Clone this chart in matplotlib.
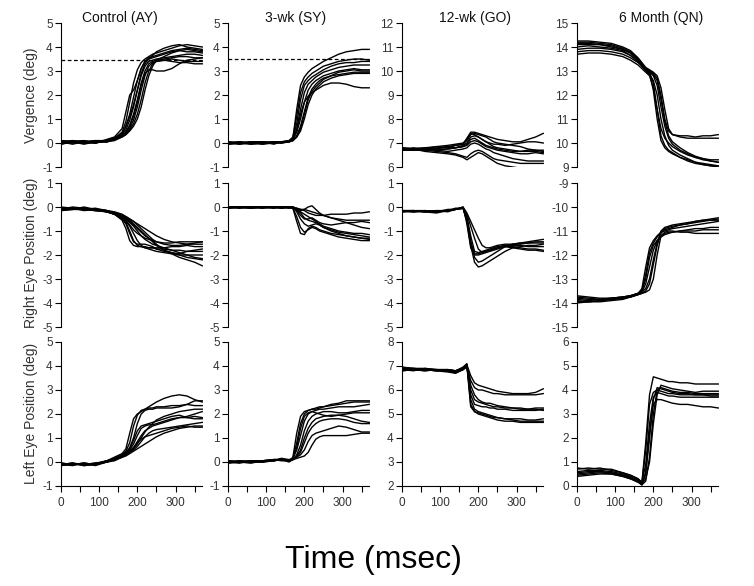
import matplotlib.pyplot as plt
from matplotlib.ticker import MultipleLocator

plt.rcParams["font.family"] = ["Liberation Sans", "DejaVu Sans"]
plt.rcParams["axes.unicode_minus"] = False

# sample times (msec) shared by every trace
T_MS = [0, 30, 60, 90, 120, 140, 160, 170, 180, 190, 200, 210, 220, 230, 240,
        250, 270, 290, 310, 330, 350, 370]

COL_TITLES = ["Control (AY)", "3-wk (SY)", "12-wk (GO)", "6 Month (QN)"]
ROW_LABELS = ["Vergence (deg)", "Right Eye Position (deg)", "Left Eye Position (deg)"]

# y ranges (bottom, top) for each panel, row by row
Y_RANGES = [
    [(-1, 5), (-1, 5), (6, 12), (9, 15)],
    [(-5, 1), (-5, 1), (-5, 1), (-15, -9)],
    [(-1, 5), (-1, 5), (2, 8), (0, 6)],
]

# dashed target levels on the vergence row (None = no line)
TARGET_LEVELS = [3.45, 3.5, None, None]

# ---- Vergence ----
VERG_AY = [
    [0.10, 0.05, 0.00, 0.05, 0.10, 0.20, 0.45, 0.90, 1.70, 2.50, 3.05, 3.35, 3.50, 3.60, 3.70, 3.75, 3.85, 3.95, 4.05, 4.10, 4.05, 4.00],
    [0.00, 0.10, 0.05, 0.00, 0.15, 0.25, 0.60, 1.30, 2.00, 2.20, 2.60, 3.10, 3.40, 3.55, 3.60, 3.65, 3.75, 3.85, 3.90, 3.95, 3.90, 3.85],
    [0.05, -0.05, 0.05, 0.10, 0.05, 0.20, 0.35, 0.70, 1.20, 1.90, 2.60, 3.10, 3.40, 3.50, 3.55, 3.60, 3.70, 3.80, 3.85, 3.80, 3.80, 3.75],
    [-0.05, 0.05, 0.10, 0.00, 0.10, 0.20, 0.35, 0.55, 0.95, 1.50, 2.20, 2.80, 3.20, 3.40, 3.45, 3.50, 3.55, 3.60, 3.65, 3.70, 3.70, 3.65],
    [0.00, 0.05, -0.05, 0.05, 0.05, 0.15, 0.30, 0.45, 0.75, 1.20, 1.80, 2.50, 3.00, 3.30, 3.40, 3.45, 3.50, 3.55, 3.60, 3.60, 3.55, 3.55],
    [0.10, 0.00, 0.05, 0.10, 0.10, 0.15, 0.30, 0.40, 0.60, 0.95, 1.50, 2.20, 2.80, 3.20, 3.35, 3.40, 3.45, 3.50, 3.45, 3.40, 3.40, 3.40],
    [-0.05, 0.05, 0.00, 0.05, 0.05, 0.10, 0.25, 0.35, 0.55, 0.80, 1.20, 1.80, 2.50, 3.00, 3.30, 3.40, 3.45, 3.40, 3.35, 3.35, 3.30, 3.30],
    [0.05, 0.10, 0.00, 0.00, 0.10, 0.15, 0.25, 0.35, 0.50, 0.70, 1.00, 1.50, 2.20, 2.80, 3.20, 3.45, 3.60, 3.75, 3.85, 3.90, 3.85, 3.80],
    [0.00, 0.00, 0.05, 0.05, 0.05, 0.15, 0.30, 0.45, 0.70, 1.10, 1.70, 2.40, 2.90, 3.05, 3.05, 3.00, 3.00, 3.10, 3.30, 3.45, 3.50, 3.55],
    [0.10, 0.05, 0.10, 0.00, 0.10, 0.20, 0.40, 0.70, 1.10, 1.60, 2.20, 2.90, 3.30, 3.50, 3.65, 3.80, 3.95, 4.05, 4.10, 4.00, 3.95, 3.90],
]
VERG_SY = [
    [0.05, -0.05, 0.00, 0.05, 0.00, 0.05, 0.05, 0.20, 1.40, 2.40, 2.75, 2.95, 3.10, 3.20, 3.30, 3.40, 3.55, 3.70, 3.80, 3.85, 3.90, 3.90],
    [-0.05, 0.00, 0.05, -0.05, 0.05, 0.00, 0.10, 0.25, 1.10, 2.10, 2.55, 2.75, 2.90, 3.00, 3.10, 3.20, 3.30, 3.40, 3.45, 3.50, 3.50, 3.45],
    [0.00, 0.05, -0.05, 0.00, 0.05, 0.05, 0.05, 0.20, 0.80, 1.80, 2.40, 2.60, 2.75, 2.85, 2.95, 3.05, 3.20, 3.30, 3.35, 3.35, 3.40, 3.40],
    [0.05, 0.00, 0.00, 0.05, -0.05, 0.05, 0.10, 0.15, 0.60, 1.40, 2.10, 2.45, 2.60, 2.75, 2.85, 2.95, 3.05, 3.15, 3.20, 3.25, 3.25, 3.25],
    [-0.05, 0.05, 0.00, 0.00, 0.05, 0.00, 0.05, 0.15, 0.45, 1.00, 1.70, 2.20, 2.45, 2.60, 2.70, 2.80, 2.90, 3.00, 3.05, 3.10, 3.05, 3.05],
    [0.00, -0.05, 0.05, 0.05, 0.00, 0.05, 0.05, 0.10, 0.30, 0.70, 1.30, 1.90, 2.25, 2.45, 2.60, 2.70, 2.80, 2.85, 2.90, 2.95, 2.95, 2.95],
    [0.05, 0.00, -0.05, 0.00, 0.05, 0.05, 0.05, 0.10, 0.25, 0.50, 1.00, 1.60, 2.00, 2.25, 2.40, 2.55, 2.70, 2.80, 2.85, 2.90, 2.90, 2.90],
    [0.00, 0.05, 0.00, -0.05, 0.00, 0.05, 0.10, 0.15, 0.50, 1.20, 1.70, 1.95, 2.10, 2.20, 2.30, 2.40, 2.50, 2.50, 2.45, 2.35, 2.30, 2.30],
    [-0.05, 0.00, 0.05, 0.05, 0.00, 0.00, 0.05, 0.10, 0.25, 0.60, 1.20, 1.80, 2.15, 2.35, 2.50, 2.65, 2.80, 2.95, 3.00, 3.05, 3.00, 3.00],
]
VERG_GO = [
    [6.80, 6.75, 6.70, 6.80, 6.85, 6.90, 6.95, 7.20, 7.45, 7.45, 7.40, 7.35, 7.30, 7.25, 7.20, 7.15, 7.10, 7.05, 7.05, 7.15, 7.25, 7.40],
    [6.75, 6.70, 6.75, 6.85, 6.80, 6.90, 6.95, 7.10, 7.35, 7.40, 7.35, 7.30, 7.25, 7.15, 7.05, 7.00, 6.95, 6.90, 6.85, 6.75, 6.70, 6.70],
    [6.70, 6.75, 6.80, 6.75, 6.85, 6.80, 6.90, 7.00, 7.25, 7.30, 7.25, 7.15, 7.05, 6.95, 6.85, 6.80, 6.75, 6.70, 6.65, 6.65, 6.65, 6.60],
    [6.80, 6.70, 6.70, 6.75, 6.75, 6.80, 6.85, 6.95, 7.15, 7.20, 7.10, 7.00, 6.90, 6.85, 6.80, 6.75, 6.70, 6.65, 6.65, 6.70, 6.70, 6.65],
    [6.75, 6.80, 6.75, 6.70, 6.75, 6.80, 6.85, 6.90, 7.05, 7.10, 7.05, 6.95, 6.85, 6.80, 6.75, 6.70, 6.65, 6.60, 6.55, 6.55, 6.60, 6.55],
    [6.70, 6.70, 6.75, 6.70, 6.65, 6.70, 6.75, 6.80, 6.95, 7.00, 6.95, 6.85, 6.75, 6.70, 6.60, 6.55, 6.45, 6.35, 6.30, 6.25, 6.25, 6.25],
    [6.75, 6.70, 6.70, 6.65, 6.60, 6.55, 6.45, 6.40, 6.55, 6.65, 6.70, 6.65, 6.55, 6.45, 6.35, 6.30, 6.25, 6.20, 6.15, 6.15, 6.15, 6.15],
    [6.70, 6.75, 6.65, 6.60, 6.55, 6.50, 6.40, 6.30, 6.40, 6.50, 6.60, 6.55, 6.45, 6.35, 6.25, 6.15, 6.05, 6.00, 5.95, 5.95, 5.95, 5.95],
    [6.80, 6.75, 6.80, 6.85, 6.90, 6.95, 7.00, 7.15, 7.40, 7.35, 7.25, 7.15, 7.05, 7.00, 6.95, 6.95, 6.90, 6.95, 7.00, 7.05, 7.05, 7.00],
]
VERG_QN = [
    [14.20, 14.20, 14.15, 14.10, 13.95, 13.80, 13.50, 13.30, 13.10, 12.95, 12.50, 11.40, 10.30, 9.90, 9.70, 9.60, 9.40, 9.30, 9.20, 9.15, 9.10, 9.05],
    [14.10, 14.10, 14.10, 14.00, 13.90, 13.75, 13.45, 13.25, 13.05, 12.90, 12.20, 11.00, 10.10, 9.80, 9.65, 9.55, 9.40, 9.25, 9.15, 9.10, 9.05, 9.00],
    [13.80, 13.85, 13.85, 13.80, 13.70, 13.55, 13.35, 13.20, 13.05, 12.95, 12.80, 12.40, 11.50, 10.70, 10.20, 9.95, 9.70, 9.55, 9.40, 9.30, 9.25, 9.20],
    [14.00, 14.05, 14.00, 13.95, 13.85, 13.65, 13.40, 13.25, 13.10, 13.00, 12.90, 12.70, 12.00, 11.00, 10.50, 10.35, 10.30, 10.30, 10.25, 10.30, 10.30, 10.35],
    [14.25, 14.25, 14.20, 14.15, 14.00, 13.85, 13.55, 13.35, 13.15, 13.05, 12.95, 12.80, 12.30, 11.40, 10.60, 10.35, 10.25, 10.20, 10.20, 10.20, 10.20, 10.20],
    [13.70, 13.75, 13.75, 13.70, 13.60, 13.45, 13.25, 13.10, 12.95, 12.80, 12.30, 11.40, 10.60, 10.20, 10.00, 9.85, 9.65, 9.50, 9.40, 9.35, 9.30, 9.30],
    [14.15, 14.15, 14.10, 14.05, 13.90, 13.75, 13.50, 13.30, 13.10, 13.00, 12.85, 12.60, 11.80, 10.90, 10.30, 10.05, 9.80, 9.60, 9.45, 9.35, 9.25, 9.20],
    [13.90, 13.95, 13.95, 13.90, 13.80, 13.65, 13.40, 13.20, 13.00, 12.85, 12.60, 12.00, 11.00, 10.30, 9.90, 9.70, 9.50, 9.35, 9.20, 9.10, 9.05, 9.05],
]

# ---- Right eye ----
RIGHT_AY = [
    [-0.10, -0.05, -0.10, -0.15, -0.20, -0.30, -0.55, -0.90, -1.40, -1.60, -1.65, -1.65, -1.70, -1.70, -1.70, -1.75, -1.75, -1.80, -1.80, -1.85, -1.85, -1.85],
    [-0.05, -0.10, 0.00, -0.10, -0.15, -0.25, -0.45, -0.65, -1.00, -1.40, -1.60, -1.65, -1.65, -1.70, -1.70, -1.70, -1.70, -1.65, -1.65, -1.60, -1.65, -1.65],
    [-0.15, -0.10, -0.05, -0.10, -0.20, -0.30, -0.45, -0.60, -0.80, -1.10, -1.40, -1.60, -1.70, -1.75, -1.80, -1.85, -1.90, -1.95, -2.00, -2.00, -2.00, -2.00],
    [-0.10, 0.00, -0.05, -0.10, -0.15, -0.25, -0.40, -0.50, -0.65, -0.80, -1.00, -1.20, -1.35, -1.45, -1.55, -1.60, -1.70, -1.80, -1.90, -2.00, -2.10, -2.15],
    [-0.05, -0.10, -0.10, -0.05, -0.15, -0.25, -0.35, -0.45, -0.55, -0.70, -0.85, -1.00, -1.15, -1.30, -1.45, -1.60, -1.80, -1.95, -2.10, -2.20, -2.30, -2.45],
    [-0.10, -0.05, -0.15, -0.10, -0.20, -0.25, -0.35, -0.40, -0.50, -0.60, -0.70, -0.80, -0.90, -1.00, -1.10, -1.20, -1.35, -1.45, -1.50, -1.55, -1.50, -1.45],
    [0.00, -0.05, -0.05, -0.10, -0.15, -0.20, -0.30, -0.40, -0.50, -0.60, -0.75, -0.90, -1.05, -1.20, -1.35, -1.45, -1.55, -1.60, -1.60, -1.55, -1.55, -1.55],
    [-0.15, -0.10, -0.10, -0.15, -0.20, -0.30, -0.40, -0.55, -0.75, -0.95, -1.10, -1.20, -1.30, -1.35, -1.40, -1.55, -1.80, -1.90, -2.00, -2.10, -2.15, -2.20],
    [-0.05, -0.05, -0.10, -0.10, -0.20, -0.30, -0.50, -0.70, -1.10, -1.45, -1.55, -1.55, -1.55, -1.60, -1.65, -1.75, -1.85, -1.90, -1.95, -1.85, -1.80, -1.75],
    [-0.10, -0.10, -0.05, -0.15, -0.15, -0.25, -0.35, -0.45, -0.60, -0.75, -0.90, -1.05, -1.20, -1.30, -1.40, -1.45, -1.50, -1.50, -1.45, -1.45, -1.45, -1.45],
]
RIGHT_SY = [
    [0.00, 0.00, -0.05, 0.00, 0.00, -0.05, 0.00, -0.05, -0.60, -1.10, -1.15, -0.90, -0.80, -0.85, -0.95, -1.00, -1.10, -1.15, -1.20, -1.25, -1.30, -1.35],
    [-0.05, 0.00, 0.00, 0.00, -0.05, 0.00, 0.00, -0.05, -0.40, -0.85, -1.05, -0.95, -0.85, -0.90, -1.00, -1.05, -1.15, -1.25, -1.30, -1.35, -1.40, -1.40],
    [0.00, -0.05, 0.00, 0.00, 0.00, 0.00, -0.05, 0.00, -0.20, -0.50, -0.70, -0.80, -0.75, -0.70, -0.75, -0.85, -0.95, -1.05, -1.10, -1.15, -1.20, -1.25],
    [0.00, 0.00, 0.00, -0.05, 0.00, 0.00, 0.00, -0.05, -0.10, -0.25, -0.45, -0.55, -0.60, -0.65, -0.70, -0.80, -0.90, -1.00, -1.05, -1.10, -1.10, -1.15],
    [-0.05, 0.00, -0.05, 0.00, 0.00, -0.05, 0.00, 0.00, -0.10, -0.15, -0.10, 0.00, 0.05, -0.10, -0.25, -0.35, -0.45, -0.55, -0.65, -0.75, -0.85, -0.90],
    [0.00, 0.00, 0.00, 0.00, -0.05, 0.00, -0.05, 0.00, -0.05, -0.10, -0.10, -0.15, -0.20, -0.25, -0.30, -0.35, -0.45, -0.50, -0.55, -0.55, -0.55, -0.55],
    [0.00, -0.05, 0.00, 0.00, 0.00, 0.00, 0.00, -0.05, -0.05, -0.10, -0.15, -0.25, -0.30, -0.35, -0.35, -0.35, -0.30, -0.30, -0.30, -0.25, -0.25, -0.20],
    [-0.05, 0.00, 0.00, -0.05, 0.00, 0.00, 0.00, 0.00, -0.15, -0.35, -0.50, -0.50, -0.45, -0.55, -0.65, -0.70, -0.75, -0.70, -0.65, -0.65, -0.60, -0.65],
    [0.00, 0.00, -0.05, 0.00, 0.00, -0.05, 0.00, 0.00, -0.10, -0.20, -0.30, -0.40, -0.50, -0.60, -0.75, -0.85, -1.00, -1.10, -1.20, -1.25, -1.30, -1.30],
]
RIGHT_GO = [
    [-0.15, -0.20, -0.15, -0.20, -0.15, -0.10, -0.05, -0.60, -1.60, -2.30, -2.50, -2.45, -2.35, -2.25, -2.15, -2.05, -1.85, -1.70, -1.65, -1.60, -1.60, -1.55],
    [-0.20, -0.15, -0.20, -0.15, -0.20, -0.10, -0.05, -0.50, -1.40, -2.10, -2.30, -2.25, -2.15, -2.05, -1.95, -1.85, -1.65, -1.55, -1.50, -1.50, -1.45, -1.45],
    [-0.15, -0.20, -0.20, -0.25, -0.15, -0.10, 0.00, -0.70, -1.70, -2.00, -2.00, -1.95, -1.90, -1.85, -1.80, -1.75, -1.65, -1.55, -1.50, -1.45, -1.40, -1.35],
    [-0.20, -0.15, -0.15, -0.20, -0.10, -0.10, -0.05, -0.40, -1.20, -1.85, -1.90, -1.85, -1.80, -1.75, -1.70, -1.65, -1.60, -1.60, -1.60, -1.65, -1.65, -1.65],
    [-0.15, -0.15, -0.20, -0.15, -0.15, -0.05, -0.05, -0.30, -0.80, -1.30, -1.75, -1.90, -1.85, -1.80, -1.75, -1.70, -1.65, -1.65, -1.70, -1.75, -1.75, -1.80],
    [-0.20, -0.20, -0.15, -0.20, -0.15, -0.10, 0.00, -0.25, -0.60, -0.95, -1.30, -1.60, -1.70, -1.70, -1.65, -1.60, -1.55, -1.55, -1.55, -1.50, -1.50, -1.50],
    [-0.15, -0.15, -0.20, -0.20, -0.15, -0.10, -0.05, -0.55, -1.50, -1.95, -1.95, -1.90, -1.85, -1.80, -1.75, -1.70, -1.65, -1.70, -1.75, -1.80, -1.80, -1.85],
]
RIGHT_QN = [
    [-13.75, -13.80, -13.85, -13.80, -13.75, -13.70, -13.60, -13.50, -12.80, -11.90, -11.50, -11.25, -11.05, -10.95, -10.90, -10.85, -10.75, -10.70, -10.60, -10.55, -10.50, -10.45],
    [-13.80, -13.85, -13.85, -13.80, -13.75, -13.70, -13.60, -13.40, -12.50, -11.70, -11.40, -11.20, -11.05, -11.00, -10.95, -10.90, -10.85, -10.80, -10.75, -10.70, -10.65, -10.60],
    [-13.90, -13.95, -13.90, -13.85, -13.80, -13.75, -13.65, -13.55, -13.20, -12.50, -11.80, -11.40, -11.20, -11.10, -11.05, -11.05, -11.00, -11.00, -11.00, -10.95, -10.95, -10.95],
    [-13.95, -13.95, -13.90, -13.85, -13.80, -13.75, -13.65, -13.60, -13.50, -13.20, -12.40, -11.60, -11.10, -10.90, -10.85, -10.80, -10.75, -10.70, -10.65, -10.60, -10.55, -10.50],
    [-14.00, -13.95, -13.95, -13.90, -13.85, -13.75, -13.65, -13.60, -13.55, -13.45, -13.00, -12.00, -11.20, -11.05, -11.00, -11.00, -11.05, -11.05, -11.10, -11.10, -11.10, -11.10],
    [-13.85, -13.90, -13.85, -13.85, -13.80, -13.70, -13.60, -13.50, -13.00, -12.10, -11.60, -11.40, -11.25, -11.15, -11.10, -11.05, -11.00, -10.95, -10.90, -10.90, -10.85, -10.85],
    [-13.70, -13.75, -13.80, -13.80, -13.75, -13.70, -13.60, -13.55, -13.40, -13.00, -12.20, -11.50, -11.00, -10.85, -10.80, -10.75, -10.70, -10.65, -10.60, -10.55, -10.55, -10.55],
]

# ---- Left eye ----
LEFT_AY = [
    [-0.10, -0.05, -0.15, -0.10, 0.05, 0.20, 0.35, 0.55, 1.20, 1.80, 2.00, 2.10, 2.20, 2.30, 2.40, 2.50, 2.65, 2.75, 2.80, 2.75, 2.60, 2.50],
    [-0.05, -0.10, -0.05, -0.10, 0.05, 0.15, 0.30, 0.45, 0.80, 1.50, 1.95, 2.15, 2.20, 2.25, 2.25, 2.30, 2.30, 2.35, 2.35, 2.40, 2.35, 2.35],
    [-0.15, -0.05, -0.10, -0.05, 0.00, 0.15, 0.30, 0.40, 0.60, 1.00, 1.60, 2.00, 2.15, 2.20, 2.20, 2.25, 2.25, 2.25, 2.30, 2.40, 2.55, 2.55],
    [-0.10, -0.15, -0.05, -0.10, 0.05, 0.10, 0.25, 0.35, 0.50, 0.75, 1.10, 1.40, 1.50, 1.55, 1.55, 1.60, 1.70, 1.80, 1.85, 1.85, 1.90, 1.85],
    [-0.05, -0.10, -0.10, -0.05, 0.00, 0.10, 0.25, 0.30, 0.45, 0.60, 0.85, 1.10, 1.30, 1.40, 1.50, 1.55, 1.65, 1.75, 1.85, 1.90, 2.00, 2.10],
    [-0.10, -0.05, -0.15, -0.10, 0.00, 0.10, 0.20, 0.30, 0.40, 0.50, 0.65, 0.85, 1.05, 1.20, 1.30, 1.35, 1.40, 1.45, 1.50, 1.55, 1.60, 1.65],
    [-0.15, -0.10, -0.05, -0.15, 0.00, 0.05, 0.20, 0.25, 0.35, 0.45, 0.55, 0.65, 0.75, 0.85, 0.95, 1.05, 1.20, 1.30, 1.40, 1.45, 1.50, 1.50],
    [-0.05, -0.10, -0.10, -0.05, 0.05, 0.10, 0.25, 0.35, 0.55, 0.90, 1.30, 1.50, 1.55, 1.60, 1.65, 1.70, 1.80, 1.90, 1.95, 1.85, 1.80, 1.80],
    [-0.10, -0.10, -0.05, -0.10, 0.00, 0.10, 0.20, 0.30, 0.40, 0.55, 0.75, 1.00, 1.25, 1.45, 1.60, 1.75, 1.90, 2.00, 2.10, 2.15, 2.20, 2.20],
    [-0.10, -0.05, -0.10, -0.10, 0.00, 0.10, 0.25, 0.30, 0.45, 0.60, 0.80, 0.95, 1.05, 1.10, 1.15, 1.20, 1.30, 1.40, 1.45, 1.50, 1.45, 1.45],
]
LEFT_SY = [
    [0.05, 0.00, 0.05, 0.00, 0.10, 0.10, 0.05, 0.20, 1.20, 1.90, 2.10, 2.15, 2.20, 2.25, 2.30, 2.30, 2.35, 2.40, 2.45, 2.50, 2.50, 2.50],
    [0.00, 0.05, 0.00, 0.05, 0.05, 0.15, 0.10, 0.15, 0.80, 1.60, 2.00, 2.15, 2.20, 2.20, 2.25, 2.30, 2.40, 2.45, 2.55, 2.55, 2.55, 2.55],
    [-0.05, 0.00, 0.05, 0.00, 0.10, 0.05, 0.05, 0.15, 0.50, 1.10, 1.70, 2.00, 2.10, 2.15, 2.20, 2.20, 2.25, 2.30, 2.30, 2.30, 2.35, 2.40],
    [0.05, 0.00, 0.00, 0.05, 0.05, 0.10, 0.05, 0.10, 0.30, 0.70, 1.30, 1.70, 1.90, 2.00, 2.05, 2.10, 2.10, 2.05, 2.05, 2.10, 2.15, 2.15],
    [0.00, -0.05, 0.05, 0.05, 0.10, 0.10, 0.05, 0.10, 0.25, 0.50, 1.00, 1.40, 1.65, 1.80, 1.85, 1.90, 1.95, 1.95, 1.90, 1.80, 1.70, 1.65],
    [0.00, 0.05, 0.00, 0.00, 0.05, 0.15, 0.05, 0.10, 0.20, 0.40, 0.80, 1.20, 1.45, 1.60, 1.70, 1.75, 1.80, 1.80, 1.75, 1.65, 1.60, 1.60],
    [0.05, 0.00, -0.05, 0.05, 0.10, 0.10, 0.00, 0.10, 0.15, 0.20, 0.25, 0.40, 0.70, 0.95, 1.05, 1.10, 1.10, 1.10, 1.10, 1.15, 1.20, 1.20],
    [-0.05, 0.05, 0.00, 0.00, 0.05, 0.10, 0.05, 0.15, 0.60, 1.40, 1.90, 2.05, 2.10, 2.05, 2.00, 1.95, 1.90, 1.95, 2.00, 2.05, 2.05, 2.05],
    [0.00, 0.00, 0.05, 0.05, 0.10, 0.10, 0.05, 0.10, 0.20, 0.30, 0.50, 0.85, 1.10, 1.20, 1.25, 1.30, 1.40, 1.50, 1.45, 1.35, 1.25, 1.25],
]
LEFT_GO = [
    [6.90, 6.85, 6.80, 6.85, 6.80, 6.75, 6.95, 7.05, 6.60, 6.30, 6.20, 6.15, 6.10, 6.05, 6.00, 5.95, 5.90, 5.85, 5.85, 5.85, 5.90, 6.05],
    [6.85, 6.90, 6.85, 6.80, 6.85, 6.80, 6.90, 7.00, 6.40, 6.10, 6.00, 6.00, 5.95, 5.90, 5.85, 5.85, 5.80, 5.80, 5.80, 5.80, 5.80, 5.85],
    [6.80, 6.85, 6.85, 6.80, 6.75, 6.70, 6.85, 6.95, 6.00, 5.60, 5.50, 5.45, 5.40, 5.35, 5.30, 5.30, 5.25, 5.25, 5.20, 5.20, 5.25, 5.25],
    [6.95, 6.90, 6.85, 6.85, 6.80, 6.75, 6.90, 7.05, 6.20, 5.80, 5.60, 5.50, 5.45, 5.45, 5.40, 5.35, 5.30, 5.25, 5.25, 5.20, 5.20, 5.15],
    [6.85, 6.80, 6.90, 6.85, 6.80, 6.75, 6.85, 7.00, 5.80, 5.40, 5.35, 5.30, 5.30, 5.25, 5.25, 5.20, 5.20, 5.15, 5.15, 5.15, 5.15, 5.20],
    [6.90, 6.85, 6.80, 6.85, 6.85, 6.80, 6.95, 7.10, 5.40, 5.10, 5.05, 5.00, 4.95, 4.90, 4.85, 4.85, 4.80, 4.80, 4.80, 4.75, 4.75, 4.80],
    [6.80, 6.85, 6.85, 6.80, 6.80, 6.70, 6.85, 7.00, 5.30, 5.10, 5.00, 4.95, 4.90, 4.85, 4.80, 4.75, 4.70, 4.70, 4.65, 4.65, 4.65, 4.65],
    [6.95, 6.90, 6.90, 6.85, 6.85, 6.80, 6.90, 7.05, 5.60, 5.20, 5.10, 5.05, 5.00, 4.95, 4.90, 4.85, 4.80, 4.75, 4.70, 4.70, 4.70, 4.70],
]
LEFT_QN = [
    [0.70, 0.75, 0.70, 0.70, 0.55, 0.45, 0.30, 0.15, 1.80, 3.80, 4.55, 4.50, 4.45, 4.40, 4.35, 4.35, 4.30, 4.30, 4.25, 4.25, 4.25, 4.25],
    [0.50, 0.55, 0.60, 0.55, 0.45, 0.35, 0.25, 0.10, 1.50, 3.40, 3.90, 4.00, 3.95, 3.90, 3.85, 3.85, 3.80, 3.80, 3.80, 3.80, 3.80, 3.80],
    [0.45, 0.50, 0.55, 0.50, 0.40, 0.30, 0.20, 0.05, 0.50, 2.00, 3.60, 4.10, 4.05, 4.00, 3.95, 3.90, 3.85, 3.85, 3.80, 3.80, 3.75, 3.75],
    [0.60, 0.65, 0.65, 0.60, 0.50, 0.40, 0.20, 0.05, 0.20, 1.20, 3.00, 4.00, 4.10, 4.05, 4.00, 3.95, 3.90, 3.90, 3.85, 3.85, 3.85, 3.85],
    [0.75, 0.70, 0.75, 0.65, 0.55, 0.45, 0.30, 0.15, 0.90, 2.60, 3.70, 3.90, 3.85, 3.80, 3.75, 3.75, 3.70, 3.70, 3.70, 3.70, 3.70, 3.70],
    [0.40, 0.45, 0.50, 0.50, 0.40, 0.30, 0.15, 0.05, 0.60, 2.20, 3.40, 3.60, 3.60, 3.55, 3.50, 3.45, 3.40, 3.40, 3.35, 3.30, 3.30, 3.25],
    [0.55, 0.60, 0.60, 0.55, 0.45, 0.35, 0.25, 0.10, 0.30, 1.00, 2.60, 3.80, 4.20, 4.15, 4.10, 4.05, 4.00, 3.95, 3.90, 3.95, 3.95, 3.95],
]

TRACES = [
    [VERG_AY, VERG_SY, VERG_GO, VERG_QN],
    [RIGHT_AY, RIGHT_SY, RIGHT_GO, RIGHT_QN],
    [LEFT_AY, LEFT_SY, LEFT_GO, LEFT_QN],
]

# layout in pixels of the 754x586 figure
W, H = 754, 586
col_left = [61, 228, 402, 577]
ax_w = 142
row_top = [23, 183, 342]
ax_h = 144
title_x = [120, 296, 475, 661]
label_y = [95, 253, 413]

fig = plt.figure(figsize=(W / 100, H / 100), dpi=100)
tick_color = "#333333"

for r in range(3):
    for c in range(4):
        ax = fig.add_axes([col_left[c] / W, 1 - (row_top[r] + ax_h) / H, ax_w / W, ax_h / H])
        for trace in TRACES[r][c]:
            ax.plot(T_MS, trace, color="black", lw=1.0)
        if r == 0 and TARGET_LEVELS[c] is not None:
            ax.axhline(TARGET_LEVELS[c], color="black", lw=0.9, ls=(0, (3, 2)), zorder=0)

        lo, hi = Y_RANGES[r][c]
        ax.set_ylim(lo, hi)
        ax.set_xlim(0, 372)
        ax.yaxis.set_major_locator(MultipleLocator(1))
        ax.spines["top"].set_visible(False)
        ax.spines["right"].set_visible(False)
        ax.spines["left"].set_bounds(lo, hi)
        ax.tick_params(axis="y", direction="out", length=4, width=0.8, pad=2,
                       labelsize=8.5, labelcolor=tick_color)
        if r == 2:
            ax.spines["bottom"].set_bounds(0, 370)
            ax.set_xticks([0, 100, 200, 300])
            ax.set_xticks([50, 150, 250, 350], minor=True)
            ax.tick_params(axis="x", which="both", direction="out", length=4, width=0.8,
                           pad=4, labelsize=8.5, labelcolor=tick_color)
        else:
            ax.spines["bottom"].set_visible(False)
            ax.set_xticks([])

for c in range(4):
    fig.text(title_x[c] / W, 1 - 18 / H, COL_TITLES[c], ha="center", va="center",
             fontsize=10, color="#111111")
for r in range(3):
    fig.text(31 / W, 1 - label_y[r] / H, ROW_LABELS[r], ha="center", va="center",
             rotation=90, fontsize=10, color=tick_color)

fig.text(373 / W, 1 - 560 / H, "Time (msec)", ha="center", va="center", fontsize=23)

fig.savefig("out.png", dpi=100)
